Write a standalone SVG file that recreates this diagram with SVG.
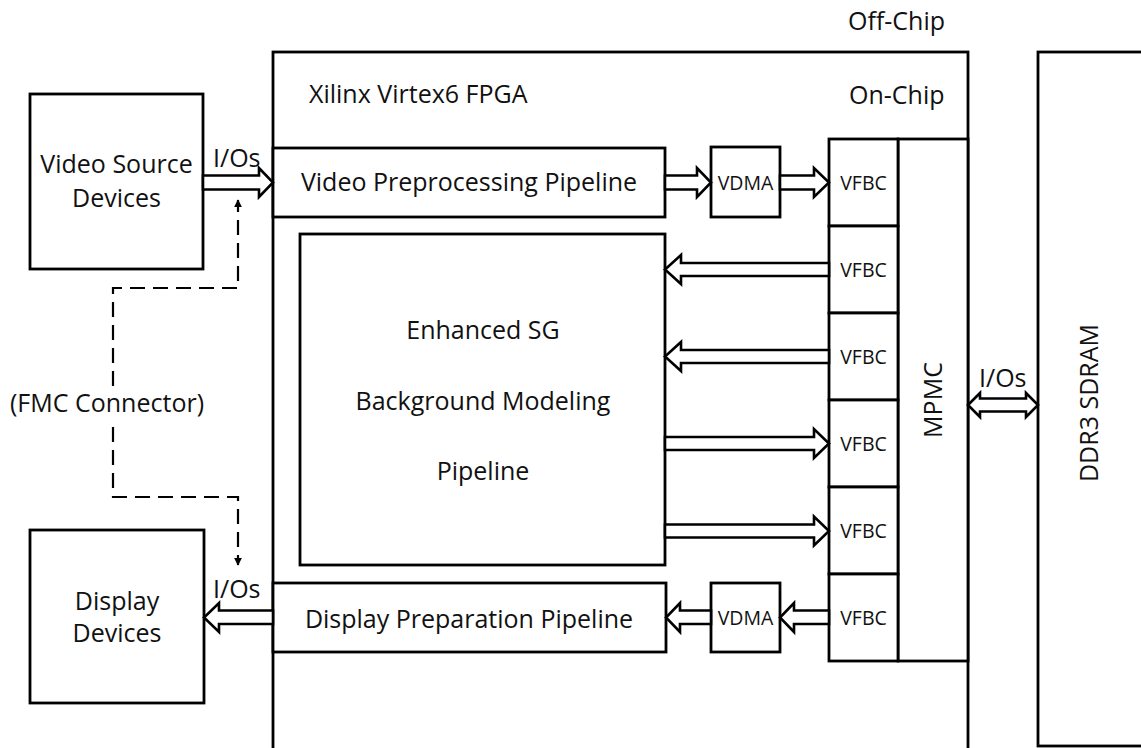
<svg xmlns="http://www.w3.org/2000/svg" width="1141" height="748" viewBox="0 0 1141 748">
<style>
  .box { fill: #ffffff; stroke: #000000; stroke-width: 2.8; }
  .blk { fill: #ffffff; stroke: #000000; stroke-width: 2.6; stroke-linejoin: miter; }
  .t { font-family: "Open Sans", "Noto Sans", "DejaVu Sans", sans-serif; font-size: 25px; fill: #111111; }
  .ts { font-family: "Open Sans", "Noto Sans", "DejaVu Sans", sans-serif; font-size: 19.5px; fill: #111111; }
  .m { text-anchor: middle; }
  .dash { fill: none; stroke: #000000; stroke-width: 2.2; stroke-dasharray: 15 8; }
</style>
<defs>
  <marker id="ah" viewBox="0 0 10 10" refX="9" refY="5" markerWidth="8" markerHeight="8" markerUnits="userSpaceOnUse" orient="auto">
    <path d="M0,0 L10,5 L0,10 Z" fill="#000000"/>
  </marker>
</defs>
<rect width="1141" height="748" fill="#ffffff"/>

<g id="fpga">
  <rect class="box" x="273" y="52" width="695" height="720"/>
  <text class="t" x="309" y="103">Xilinx Virtex6 FPGA</text>
  <text class="t" x="849" y="104">On-Chip</text>
</g>
<g id="off-chip-label">
  <text class="t" x="848" y="30">Off-Chip</text>
</g>

<g id="video-source">
  <rect class="box" x="30" y="94" width="173" height="175"/>
  <text class="t m" x="116.5" y="173">Video Source</text>
  <text class="t m" x="116.5" y="207">Devices</text>
</g>

<g id="display-devices">
  <rect class="box" x="30" y="530" width="174" height="173"/>
  <text class="t m" x="117" y="610">Display</text>
  <text class="t m" x="117" y="642">Devices</text>
</g>

<g id="ddr3">
  <rect class="box" x="1038" y="52" width="120" height="694"/>
  <text class="t m" transform="translate(1098,403) rotate(-90)">DDR3 SDRAM</text>
</g>

<g id="vpp">
  <rect class="box" x="273" y="148" width="392" height="69"/>
  <text class="t m" x="469" y="191">Video Preprocessing Pipeline</text>
</g>

<g id="enhanced-sg">
  <rect class="box" x="300" y="234" width="365" height="331"/>
  <text class="t m" x="483" y="339">Enhanced SG</text>
  <text class="t m" x="483" y="410">Background Modeling</text>
  <text class="t m" x="483" y="480">Pipeline</text>
</g>

<g id="dpp">
  <rect class="box" x="273" y="583" width="393" height="69"/>
  <text class="t m" x="469" y="628">Display Preparation Pipeline</text>
</g>

<g id="vdma-in">
  <rect class="box" x="711" y="147" width="69" height="70"/>
  <text class="ts m" x="745.5" y="190">VDMA</text>
</g>
<g id="vdma-out">
  <rect class="box" x="711" y="583" width="69" height="69"/>
  <text class="ts m" x="745.5" y="625">VDMA</text>
</g>

<g id="mpmc">
  <rect class="box" x="898" y="139" width="70" height="522"/>
  <text class="t m" transform="translate(942,400) rotate(-90)">MPMC</text>
</g>

<g id="vfbc-1"><rect class="box" x="829" y="139" width="69" height="87"/><text class="ts m" x="863.5" y="190">VFBC</text></g>
<g id="vfbc-2"><rect class="box" x="829" y="226" width="69" height="87"/><text class="ts m" x="863.5" y="277">VFBC</text></g>
<g id="vfbc-3"><rect class="box" x="829" y="313" width="69" height="87"/><text class="ts m" x="863.5" y="364">VFBC</text></g>
<g id="vfbc-4"><rect class="box" x="829" y="400" width="69" height="87"/><text class="ts m" x="863.5" y="451">VFBC</text></g>
<g id="vfbc-5"><rect class="box" x="829" y="487" width="69" height="87"/><text class="ts m" x="863.5" y="538">VFBC</text></g>
<g id="vfbc-6"><rect class="box" x="829" y="574" width="69" height="87"/><text class="ts m" x="863.5" y="625">VFBC</text></g>

<g id="connectors">
  <polygon class="blk" points="203,175.5 259,175.5 259,168 273,182.5 259,197 259,189.5 203,189.5"/>
  <text class="t" x="213" y="167">I/Os</text>
  <polygon class="blk" points="665,175.5 697,175.5 697,168 711,182.5 697,197 697,189.5 665,189.5"/>
  <polygon class="blk" points="780,175.5 814,175.5 814,168 829,182.5 814,197 814,189.5 780,189.5"/>
  <polygon class="blk" points="829,263 681,263 681,255 665,269.5 681,284 681,276 829,276"/>
  <polygon class="blk" points="829,350 681,350 681,342 665,356.5 681,371 681,363 829,363"/>
  <polygon class="blk" points="665,437 814,437 814,429 829,443.5 814,458 814,450 665,450"/>
  <polygon class="blk" points="665,524.5 814,524.5 814,516.5 829,531 814,545.5 814,537.5 665,537.5"/>
  <polygon class="blk" points="829,610.5 794,610.5 794,603 780,617.5 794,632 794,624 829,624"/>
  <polygon class="blk" points="711,610.5 680,610.5 680,603 666,617.5 680,632 680,624 711,624"/>
  <polygon class="blk" points="273,610.5 219,610.5 219,603 204,617.5 219,632 219,624 273,624"/>
  <text class="t" x="213" y="598">I/Os</text>
  <polygon class="blk" points="968,405 980,393 980,398.5 1026,398.5 1026,393 1038,405 1026,417 1026,411.5 980,411.5 980,417"/>
  <text class="t" x="979" y="387">I/Os</text>
  <path class="dash" d="M113,386 L113,288 L238,288 L238,200" marker-end="url(#ah)"/>
  <path class="dash" d="M113,427 L113,497 L238,497 L238,565" marker-end="url(#ah)"/>
  <text class="t" x="10" y="412">(FMC Connector)</text>
</g>
</svg>
